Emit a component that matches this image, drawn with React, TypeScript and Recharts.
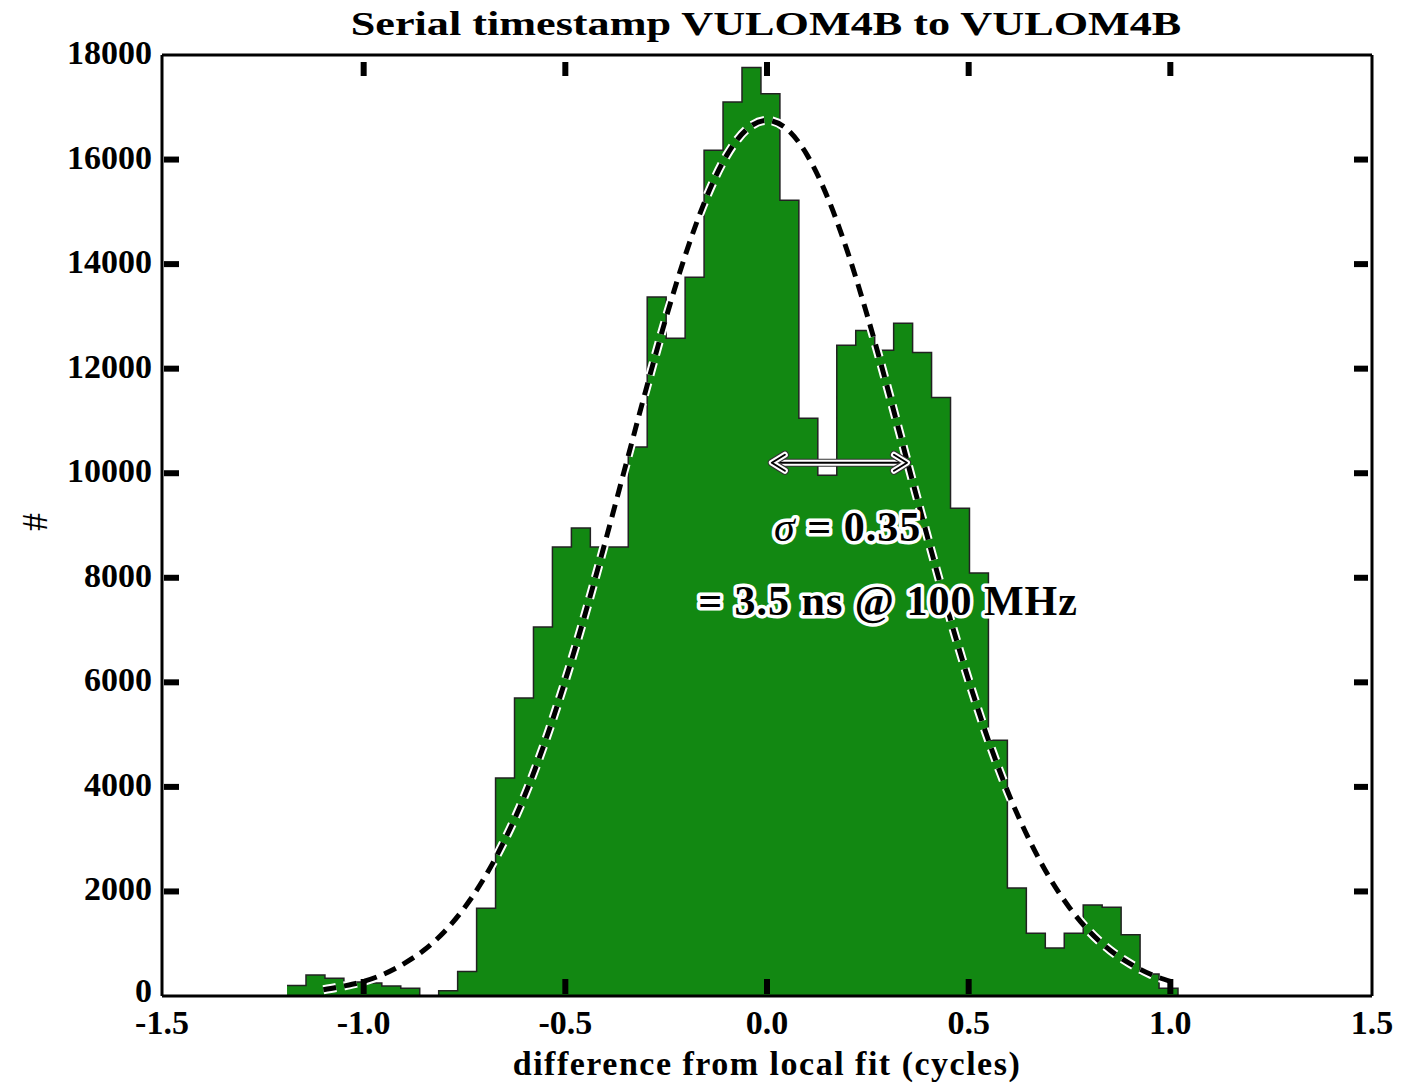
import React from 'react'
import { ComposedChart, Area, Line, Scatter, XAxis, YAxis } from 'recharts'

// histogram: left bin edges (cycles) and counts per bin
const binEdges = [
  -1.19, -1.143, -1.096, -1.049, -1.002, -0.955, -0.908, -0.861, -0.814, -0.767,
  -0.72, -0.673, -0.626, -0.579, -0.532, -0.485, -0.438, -0.391, -0.344, -0.297,
  -0.25, -0.203, -0.156, -0.109, -0.062, -0.015, 0.032, 0.079, 0.126, 0.173,
  0.22, 0.267, 0.314, 0.361, 0.408, 0.455, 0.502, 0.549, 0.596, 0.643,
  0.69, 0.737, 0.784, 0.831, 0.878, 0.925, 0.972, 1.019,
]
const binCounts = [
  200, 400, 340, 270, 250, 190, 150, 0, 100, 470,
  1680, 4170, 5700, 7060, 8590, 8950, 8590, 8590, 10500, 13370,
  12580, 13750, 16180, 17100, 17760, 17260, 15220, 11050, 9960, 12450,
  12730, 12350, 12870, 12310, 11450, 9330, 8090, 4890, 2065, 1200,
  920, 1200, 1740, 1700, 1170, 420, 150,
]

// dashed gaussian fit
const fitX = [
  -1.1, -1.05, -1.0, -0.95, -0.9, -0.85, -0.8, -0.75, -0.7, -0.65, -0.6,
  -0.55, -0.5, -0.45, -0.4, -0.35, -0.3, -0.25, -0.2, -0.15, -0.1, -0.05,
  0, 0.05, 0.1, 0.15, 0.2, 0.25, 0.3, 0.35, 0.4, 0.45, 0.5,
  0.55, 0.6, 0.65, 0.7, 0.75, 0.8, 0.85, 0.9, 0.95, 1.0,
]
const fitY = [
  120, 190, 280, 420, 620, 880, 1230, 1690, 2270, 2990, 3850,
  4870, 6040, 7330, 8720, 10160, 11600, 12980, 14230, 15280, 16080, 16580,
  16750, 16580, 16080, 15280, 14230, 12980, 11600, 10160, 8720, 7330, 6040,
  4870, 3850, 2990, 2270, 1690, 1230, 880, 620, 420, 280,
]

const xTicks = [-1.5, -1.0, -0.5, 0, 0.5, 1.0, 1.5]
const yTicks = [0, 2000, 4000, 6000, 8000, 10000, 12000, 14000, 16000, 18000]

// sigma arrow and the two text notes
const arrowX = [0.012, 0.347]
const arrowLevel = 10200
const noteX = [0.2, 0.3]
const noteY = [8700, 7280]
const noteText = ['σ', '= 3.5 ns @ 100 MHz']

const FONT = '"Liberation Serif", "DejaVu Serif", serif'
const GREEN = '#128812'

const histData = binEdges.map((x, i) => ({ x, count: i < binCounts.length ? binCounts[i] : 0 }))
const fitData = fitX.map((x, i) => ({ x, fit: fitY[i] }))
const arrowData = arrowX.map((x) => ({ x, arrow: arrowLevel }))
const noteData = noteX.map((x, i) => ({ x, y: noteY[i], text: noteText[i] }))

function BottomTick(props: any) {
  const { x, y, payload } = props
  const v = payload.value as number
  return (
    <g>
      {Math.abs(v) < 1.5 && <line x1={x} x2={x} y1={y - 2} y2={y - 17} stroke="#000" strokeWidth={6} />}
      <text x={x} y={y + 38} textAnchor="middle" fontFamily={FONT} fontWeight="bold" fontSize={34} fill="#000">
        {v.toFixed(1)}
      </text>
    </g>
  )
}

function TopTick(props: any) {
  const { x, y, payload } = props
  if (Math.abs(payload.value) >= 1.5) return <g />
  return <line x1={x} x2={x} y1={y + 7} y2={y + 21} stroke="#000" strokeWidth={6} />
}

function LeftTick(props: any) {
  const { x, y, payload } = props
  const v = payload.value as number
  return (
    <g>
      {v > 0 && v < 18000 && <line x1={x + 2} x2={x + 17} y1={y} y2={y} stroke="#000" strokeWidth={6} />}
      <text x={x - 10} y={v === 0 ? y + 6 : y + 9} textAnchor="end" fontFamily={FONT} fontWeight="bold" fontSize={34} fill="#000">
        {v}
      </text>
    </g>
  )
}

function RightTick(props: any) {
  const { x, y, payload } = props
  if (payload.value <= 0 || payload.value >= 18000) return <g />
  return <line x1={x - 18} x2={x - 4} y1={y} y2={y} stroke="#000" strokeWidth={6} />
}

function arrowDot(stroke: string, width: number) {
  return (props: any) => {
    const { cx, cy, index } = props
    const d = index === 0 ? -1 : 1
    return (
      <path
        key={`ah-${stroke}-${index}`}
        d={`M${cx - d * 13},${cy - 8} L${cx},${cy} L${cx - d * 13},${cy + 8}`}
        fill="none"
        stroke={stroke}
        strokeWidth={width}
        strokeLinecap="round"
        strokeLinejoin="round"
      />
    )
  }
}

function NoteShape(props: any) {
  const { cx, cy, payload } = props
  const content =
    payload.text === 'σ' ? (
      <>
        <tspan fontStyle="italic" fontWeight="normal">σ</tspan>
        {' = 0.35'}
      </>
    ) : (
      payload.text
    )
  return (
    <text
      x={cx}
      y={cy}
      textAnchor="middle"
      fontFamily={FONT}
      fontWeight="bold"
      fontSize={42}
      letterSpacing={1}
      fill="#000"
      stroke="#fff"
      strokeWidth={7}
      strokeLinejoin="round"
      paintOrder="stroke"
    >
      {content}
    </text>
  )
}

const frame = { stroke: '#000', strokeWidth: 3 }

export default function App() {
  return (
    <div style={{ position: 'relative', width: 1408, height: 1082, background: '#fff' }}>
      <ComposedChart width={1408} height={1082} margin={{ top: 27, right: 24, bottom: 34, left: 4 }}>
        <XAxis
          dataKey="x"
          type="number"
          domain={[-1.5, 1.5]}
          ticks={xTicks}
          allowDataOverflow
          height={60}
          tickSize={0}
          tickMargin={0}
          tickLine={false}
          axisLine={frame}
          tick={(p: any) => <BottomTick {...p} />}
        />
        <XAxis
          xAxisId="top"
          orientation="top"
          dataKey="x"
          type="number"
          domain={[-1.5, 1.5]}
          ticks={xTicks}
          allowDataOverflow
          height={20}
          tickSize={0}
          tickMargin={0}
          tickLine={false}
          axisLine={frame}
          tick={(p: any) => <TopTick {...p} />}
        />
        <YAxis
          type="number"
          domain={[0, 18000]}
          ticks={yTicks}
          allowDataOverflow
          width={150}
          tickSize={0}
          tickMargin={0}
          tickLine={false}
          axisLine={frame}
          tick={(p: any) => <LeftTick {...p} />}
        />
        <YAxis
          yAxisId="right"
          orientation="right"
          type="number"
          domain={[0, 18000]}
          ticks={yTicks}
          allowDataOverflow
          width={20}
          tickSize={0}
          tickMargin={0}
          tickLine={false}
          axisLine={frame}
          tick={(p: any) => <RightTick {...p} />}
        />

        <Area
          data={histData}
          dataKey="count"
          type="stepAfter"
          fill="none"
          stroke="#fff"
          strokeWidth={5}
          isAnimationActive={false}
        />
        <Area
          data={histData}
          dataKey="count"
          type="stepAfter"
          fill={GREEN}
          fillOpacity={1}
          stroke="#222"
          strokeWidth={1.5}
          isAnimationActive={false}
        />
        <Line
          data={fitData}
          dataKey="fit"
          type="monotone"
          stroke="#fff"
          strokeWidth={9}
          strokeDasharray="13 8"
          dot={false}
          activeDot={false}
          isAnimationActive={false}
        />
        <Line
          data={fitData}
          dataKey="fit"
          type="monotone"
          stroke="#000"
          strokeWidth={5}
          strokeDasharray="13 8"
          dot={false}
          activeDot={false}
          isAnimationActive={false}
        />
        <Line
          data={fitData}
          dataKey="fit"
          xAxisId="top"
          yAxisId="right"
          stroke="none"
          dot={false}
          activeDot={false}
          isAnimationActive={false}
        />

        <Line data={arrowData} dataKey="arrow" stroke="#333" strokeWidth={8} dot={arrowDot('#333', 8)} activeDot={false} isAnimationActive={false} />
        <Line data={arrowData} dataKey="arrow" stroke="#fff" strokeWidth={6} dot={arrowDot('#fff', 6)} activeDot={false} isAnimationActive={false} />
        <Line data={arrowData} dataKey="arrow" stroke="#000" strokeWidth={2} dot={arrowDot('#000', 2)} activeDot={false} isAnimationActive={false} />

        <Scatter data={noteData} dataKey="y" shape={(p: any) => <NoteShape {...p} />} isAnimationActive={false} />
      </ComposedChart>

      <svg width={1408} height={1082} style={{ position: 'absolute', left: 0, top: 0, pointerEvents: 'none' }}>
        <text
          x={0}
          y={0}
          transform="translate(758 27) scale(1.3 1)"
          textAnchor="middle"
          fontFamily={FONT}
          fontWeight="bold"
          fontSize={34}
          fill="#000"
        >
          Serial timestamp VULOM4B to VULOM4B
        </text>
        <text x={759} y={1067} textAnchor="middle" fontFamily={FONT} fontWeight="bold" fontSize={34} letterSpacing={1.5} fill="#000">
          difference from local fit (cycles)
        </text>
        <text x={27} y={514} textAnchor="middle" dominantBaseline="central" fontFamily={FONT} fontSize={36} fill="#000" transform="rotate(-90 27 514)">
          #
        </text>
      </svg>
    </div>
  )
}
